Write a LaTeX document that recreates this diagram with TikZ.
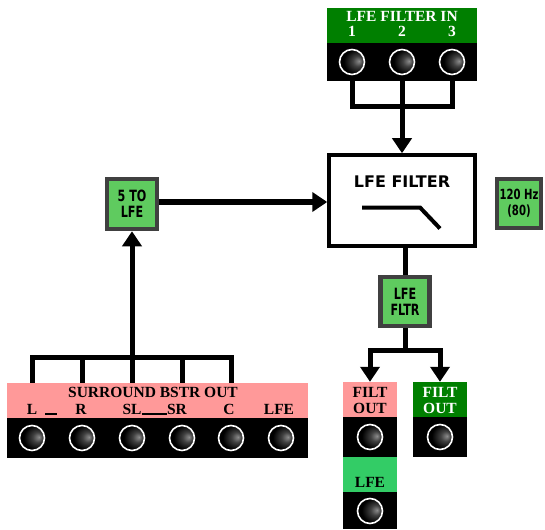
\documentclass[tikz,border=0pt]{standalone}
\usepackage{fontspec}
\setmainfont{Liberation Serif}
\newfontfamily\condfont[FakeStretch=0.8]{DejaVu Sans Condensed}
\newfontfamily\filtfont{DejaVu Sans}
\usetikzlibrary{arrows.meta}

\definecolor{hdrgreen}{HTML}{007F00}
\definecolor{hdrpink}{HTML}{FF9999}
\definecolor{knobgreen}{HTML}{5FCB5F}
\definecolor{knobframe}{HTML}{404040}
\definecolor{lfegreen}{HTML}{33CC66}

\pgfdeclareradialshading{jackball}{\pgfpoint{14bp}{2bp}}{color(0bp)=(black!45); color(10bp)=(black!75); color(24bp)=(black); color(50bp)=(black)}

\begin{document}
\begin{tikzpicture}[x=1pt, y=-1pt,
	wire/.style={line width=5pt},
	tip/.style={-{Triangle[width=19pt,length=15pt]}},
	panel/.style={fill=black, inner sep=0pt},
	greenhead/.style={fill=hdrgreen, inner sep=0pt},
	pinkhead/.style={fill=hdrpink, inner sep=0pt},
	headtext/.style={inner sep=0pt, font=\bfseries\fontsize{15.5}{16}\selectfont},
	jack/.style={circle, draw=white, line width=1.6pt, inner sep=0pt,
		minimum size=25pt, shade, shading=jackball},
	knob/.style={draw=knobframe, line width=4.5pt, fill=knobgreen, align=center,
		inner sep=0pt, font=\condfont\bfseries\fontsize{15.5}{16}\selectfont},
	filterbox/.style={draw, line width=3.5pt, fill=white, inner sep=0pt}
	]
	\useasboundingbox (0,0) rectangle (545,529);
	
	%LFE FILTER IN
	\node[greenhead, minimum width=150pt, minimum height=35pt] (inhead) at (402,25.5) {};
	\node[panel, minimum width=150pt, minimum height=38pt] (inpanel) at (402,62) {};
	\node[headtext, text=white, anchor=base] (inlabel) at (402,22) {LFE FILTER IN};
	\foreach \n/\x in {1/352,2/402,3/452} {
		\node[jack] (in\n) at (\x,62) {};
		\node[headtext, text=white, anchor=base] (innum\n) at (\x,37) {\n};
	}
	
	%Filter
	\node[filterbox, minimum width=146pt, minimum height=91pt] (filter) at (402,200.5) {};
	\node[font=\filtfont\bfseries\fontsize{16}{18}\selectfont] (filterlabel) at (402,182) {LFE FILTER};
	\draw[line width=4pt] ([shift={(-40,7)}]filter.center) -- ++(58,0) -- ++(20,21);
	
	\node[knob, minimum size=50pt] (tolfe) at (132,204) {5 TO\\LFE};
	\node[knob, minimum width=44pt, minimum height=48.5pt,
		font=\condfont\bfseries\fontsize{14}{16}\selectfont] (freq) at (519,203.5) {120 Hz\\(80)};
	\node[knob, minimum size=49pt] (fltr) at (405,301.5) {LFE\\FLTR};
	
	\coordinate (injoin) at (402,107);
	\draw[wire] (in1 |- inpanel.south) |- (in3 |- injoin) -- (in3 |- inpanel.south);
	\draw[wire, tip] (in2 |- inpanel.south) -- (filter.north);
	\draw[wire, tip] ([yshift=2pt]tolfe.east) -- ([yshift=2pt]tolfe.east -| filter.west);
	\draw[wire] (filter.south -| fltr) -- (fltr.north);
	
	%SURROUND BSTR OUT
	\node[pinkhead, minimum width=301pt, minimum height=35pt] (surhead) at (157.5,400.5) {};
	\node[panel, minimum width=301pt, minimum height=40pt] (surpanel) at (157.5,438) {};
	\node[headtext, anchor=base] (surlabel) at (153,397) {SURROUND BSTR OUT};
	\foreach \n/\x/\lx in {L/32/32, R/82/81, SL/132/132, SR/182/177, C/231/229, LFE/281/279} {
		\node[jack] (s\n) at (\x,438) {};
		\node[headtext, anchor=base] (t\n) at (\lx,414) {\n};
	}
	\draw[line width=1.2pt] ([xshift=8pt]tL.base east) -- ([xshift=-18pt]tR.base west);
	\draw[line width=1.2pt] (tSL.base east) -- (tSR.base west);
	
	\coordinate (surjoin) at (132,357);
	\draw[wire] (sL |- surhead.north) |- (sC |- surjoin) -- (sC |- surhead.north);
	\draw[wire] (sR |- surhead.north) -- (sR |- surjoin);
	\draw[wire] (sSR |- surhead.north) -- (sSR |- surjoin);
	\draw[wire, tip] (sSL |- surhead.north) -- (tolfe.south);
	
	%FILT OUT
	\node[pinkhead, minimum width=54pt, minimum height=35pt] (fohead) at (370,399.5) {};
	\node[panel, minimum width=54pt, minimum height=40pt] (fopanel) at (370,437) {};
	\node[jack] (fojack) at (370,437) {};
	\node[headtext, align=center, anchor=base] (folabel) at (370,413) {FILT\\OUT};
	
	\node[fill=lfegreen, inner sep=0pt, minimum width=54pt, minimum height=35pt] (lfehead) at (370,474.5) {};
	\node[panel, minimum width=54pt, minimum height=37pt] (lfepanel) at (370,510.5) {};
	\node[jack] (lfejack) at (370,511) {};
	\node[headtext, anchor=base] (lfelabel) at (370,487) {LFE};
	
	\node[greenhead, minimum width=54pt, minimum height=35pt] (fghead) at (440,399.5) {};
	\node[panel, minimum width=54pt, minimum height=40pt] (fgpanel) at (440,437) {};
	\node[jack] (fgjack) at (440,437) {};
	\node[headtext, text=white, align=center, anchor=base] (fglabel) at (440,413) {FILT\\OUT};
	
	\coordinate (split) at (405,350);
	\draw[wire] (fltr.south) -- (split);
	\draw[wire, tip] (split) -| (fohead.north);
	\draw[wire, tip] (split) -| (fghead.north);
\end{tikzpicture}
\end{document}
